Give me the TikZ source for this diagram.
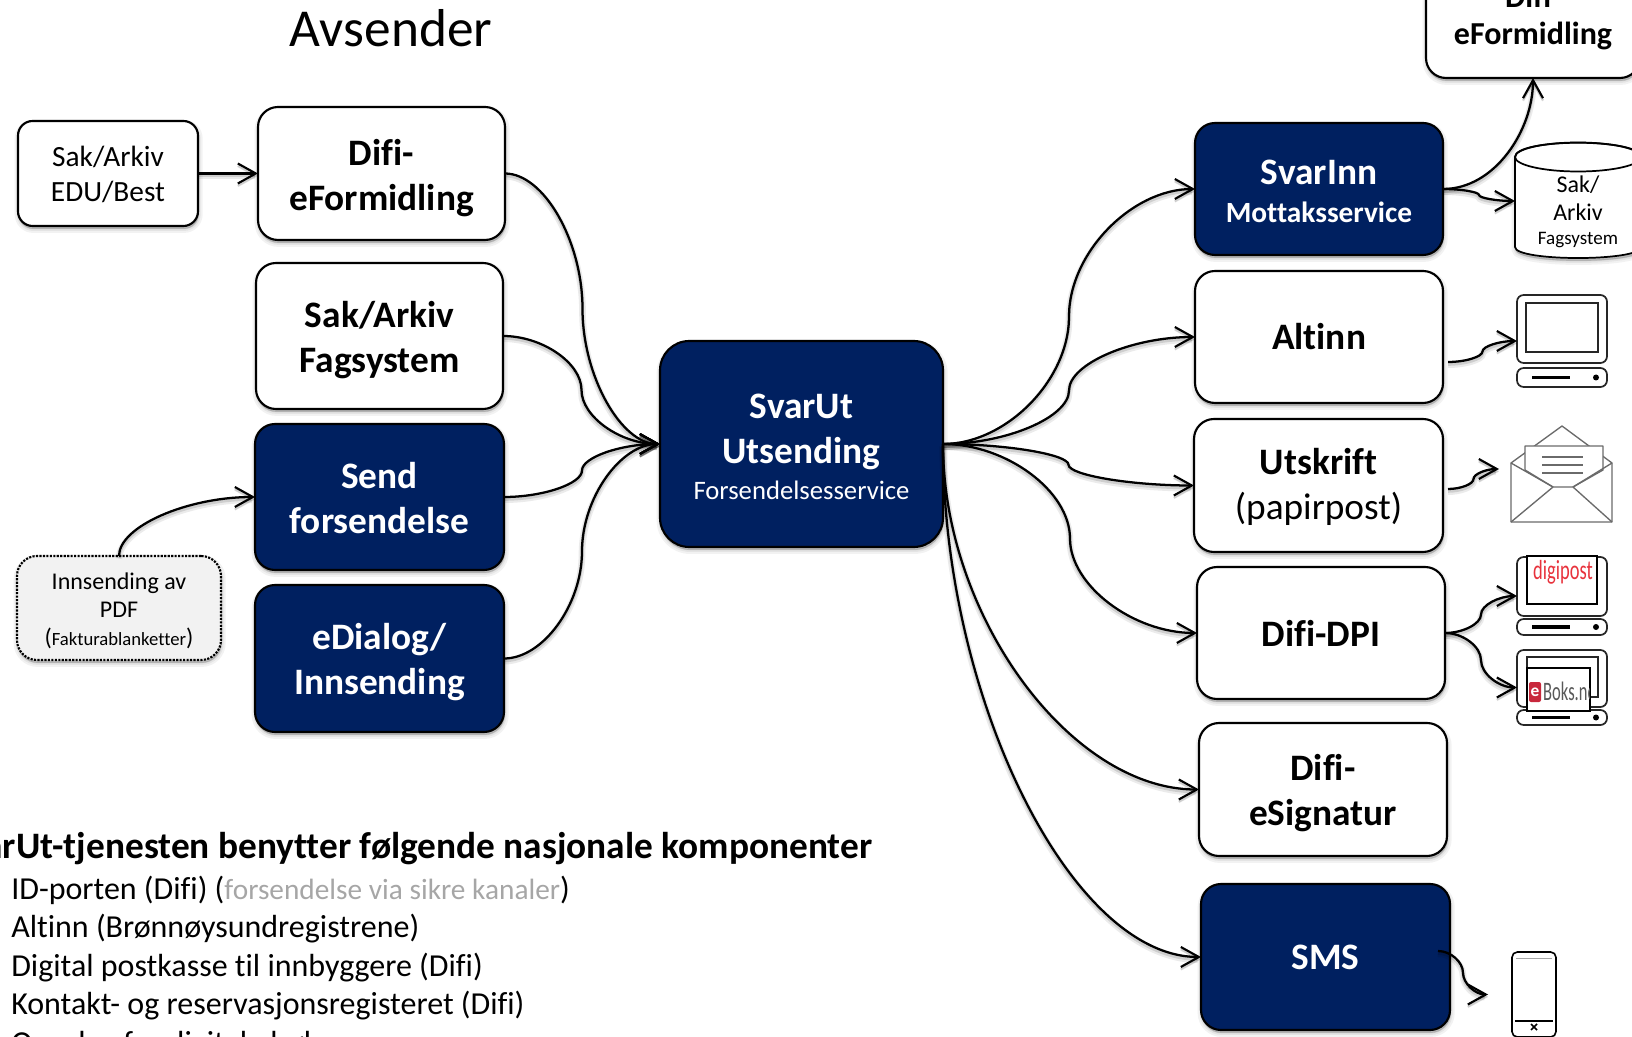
\documentclass[tikz,border=0pt]{standalone}
\usepackage{fontspec}
\setmainfont{Carlito}[Ligatures=CommonOff]
\usetikzlibrary{arrows.meta,calc,shadows}
\definecolor{navy}{HTML}{002060}
\definecolor{greytxt}{HTML}{A6A6A6}
\definecolor{envgrey}{HTML}{6A6A6A}
\definecolor{digired}{HTML}{E8323C}
\definecolor{boksred}{HTML}{C8283C}
\newcommand{\bigb}{\bfseries\fontsize{28}{33.75}\selectfont}
\newcommand{\fsz}[2]{\fontsize{#1}{#2}\selectfont}
\newcommand{\tp}[1]{\rule{0pt}{#1pt}}
% curved connector: out horizontally, vertical at fraction #1, in horizontally
\newcommand{\cconn}[3][.5]{\draw[conn] let \p1=(#2),\p2=(#3),\n1={\x1+#1*(\x2-\x1)},\n2={(\y1+\y2)/2} in
  (\p1) .. controls ({(\x1+\n1)/2},\y1) and (\n1,{(\y1+\n2)/2}) .. (\n1,\n2)
  .. controls (\n1,{(\n2+\y2)/2}) and ({(\n1+\x2)/2},\y2) .. (\p2);}
% quarter connector: leaves vertically, arrives horizontally
\newcommand{\qconn}[2]{\draw[conn] let \p1=(#1),\p2=(#2) in
  (\p1) .. controls (\x1,{(\y1+\y2)/2}) and ({(\x1+\x2)/2},\y2) .. (\p2);}
% computer icon: name, top, monitor bottom, base top, base bottom
\newcommand{\pcicon}[5]{
  \draw[icon,fill=white] (1517,#2) [rounded corners=5pt] rectangle (1607,#3);
  \draw[icon,fill=white] (1517,#4) [rounded corners=5pt] rectangle (1607,#5);
  \draw[line width=2.3pt,line cap=butt] (1532,{(#4+#5)/2}) -- (1570,{(#4+#5)/2});
  \fill (1596,{(#4+#5)/2}) circle [radius=3];
  \node[iconbox,sz={90}{#5-#2}] (#1) at (1562,{(#2+#5)/2}) {};
}
\tikzset{
  sz/.style 2 args={minimum width=(#1)*.75pt,minimum height=(#2)*.75pt},
  softshadow/.style={
    general shadow={solid,shadow xshift=.5pt,shadow yshift=-2.2pt,fill=black,fill opacity=.05,draw=black,draw opacity=.05,line width=6pt},
    general shadow={solid,shadow xshift=.5pt,shadow yshift=-2.2pt,fill=black,fill opacity=.06,draw=black,draw opacity=.06,line width=3pt},
    general shadow={solid,shadow xshift=.5pt,shadow yshift=-2pt,fill=black,fill opacity=.08,draw=black,draw opacity=.08,line width=1pt}},
  boxbase/.style={rectangle,rounded corners=15pt,draw=black,line width=1.6pt,inner sep=0pt,outer sep=0pt,align=center,softshadow},
  wbox/.style={boxbase,fill=white,text=black},
  dbox/.style={boxbase,fill=navy,text=white},
  conn/.style={draw=black,line width=1.7pt,
    -{Straight Barb[length=13.5pt,width=15pt,line width=1.6pt]},
    preaction={draw=black,draw opacity=.08,line width=5pt,transform canvas={yshift=-2pt}},
    preaction={draw=black,draw opacity=.12,line width=2.5pt,transform canvas={yshift=-1.6pt}}},
  icon/.style={draw=black!85,line width=1.3pt},
  iconbox/.style={rectangle,inner sep=0pt,outer sep=0pt},
  envl/.style={draw=envgrey,line width=1pt,line join=round},
  listtxt/.style={anchor=base west,inner sep=0pt,font=\fsz{24}{29}}
}
\begin{document}
\begin{tikzpicture}[x=.75pt,y=-.75pt]
\useasboundingbox (0,0) rectangle (1632,1037);
\clip (0,0) rectangle (1632,1037);

\node[font=\fsz{40}{48},inner sep=0pt] (title) at (391,28) {Avsender};

% left boxes
\node[wbox,sz={180}{105},rounded corners=11pt,font=\fsz{22}{26.25}] (edu) at (108,173.5) {\tp{17}Sak/Arkiv\\EDU/Best};
\node[wbox,sz={247}{133},font=\bigb] (dife) at (381.5,173.5) {\tp{26.6}Difi-\\eFormidling};
\node[wbox,sz={247}{146},font=\bigb] (fag) at (379.5,336) {\tp{25}Sak/Arkiv\\Fagsystem};
\node[dbox,sz={249}{146},font=\bigb] (send) at (379.5,497) {\tp{21.2}Send\\forsendelse};
\node[dbox,sz={249}{147},font=\bigb] (edia) at (379.5,658.5) {\tp{25.5}eDialog/\\Innsending};
\node[wbox,sz={204}{104},fill=black!5,densely dotted,font=\fsz{18}{21}] (inns) at (119,608)
  {\tp{16.9}Innsending av\\PDF\\({\fsz{14}{21}Fakturablanketter})};

% centre
\node[dbox,sz={283}{206},rounded corners=22pt,font=\bigb] (svarut) at (801.5,444)
  {\tp{22.7}SvarUt\\Utsending\\[-6.75pt]{\normalfont\fsz{20}{24}Forsendelsesservice}};

% right boxes
\node[dbox,sz={248}{132},font=\bigb] (svarinn) at (1319,189) {\tp{22}SvarInn\\[-5pt]{\fsz{22}{26}Mottaksservice}};
\node[wbox,sz={248}{132},font=\bigb] (altinn) at (1319,337) {Altinn};
\node[wbox,sz={249}{133},font=\bigb] (utskrift) at (1318.5,485.5) {\tp{22.4}Utskrift\\{\normalfont (papirpost)}};
\node[wbox,sz={248}{132},font=\bigb] (dpi) at (1321,633) {Difi-DPI};
\node[wbox,sz={248}{133},font=\bigb] (esig) at (1323,789.5) {\tp{24.3}Difi-\\eSignatur};
\node[dbox,sz={249}{146},font=\bigb] (sms) at (1325.5,957) {SMS};
\node[wbox,sz={214}{138},font=\bfseries\fsz{24}{27.75}] (top) at (1533,9) {\tp{29}Difi-\\eFormidling};

% cylinder
\path[draw=black,line width=1.3pt,fill=white,softshadow]
  (1515,157) -- (1515,247) .. controls (1515,261.7) and (1641,261.7) .. (1641,247) -- (1641,157)
  .. controls (1641,138) and (1515,138) .. (1515,157) -- cycle;
\draw[black,line width=1.3pt] (1578,157) ellipse [x radius=63,y radius=14.5];
\node[iconbox,sz={126}{86},align=center,font=\fsz{18}{21}] (cyl) at (1578,201)
  {\tp{29}Sak/\\Arkiv\\[-3pt]{\fsz{14.3}{17}Fagsystem}};

% computers
\pcicon{pcalt}{295}{363}{368}{387}
\draw[icon] (1526,303) rectangle (1598,352);
\pcicon{pcdigi}{557}{616}{619}{635}
\draw[black,line width=1.7pt,fill=white] (1527,556) rectangle (1597,604);
\node[inner sep=0pt,text=digired,xscale=.77,yscale=1.15,font=\fsz{18}{20}] (digi) at (1563,572) {digipost};
\pcicon{pcbox}{650}{707}{710}{725}
\draw[icon] (1527,657) rectangle (1598,697);
\draw[black,line width=1.2pt,fill=white] (1527,668) rectangle (1590,711);
\begin{scope}
  \clip (1527,668) rectangle (1589,711);
  \fill[boksred,rounded corners=1.5pt] (1529,682) rectangle (1541,702);
  \node[inner sep=0pt,text=white,font=\bfseries\fsz{13}{15}] (boxe) at (1535,692) {e};
  \node[anchor=west,inner sep=0pt,text=black!65,xscale=.62,font=\fsz{20}{24}] (boks) at (1543,691.5) {Boks.no};
\end{scope}

% envelope
\node[iconbox,sz={114}{96}] (mail) at (1556,469) {};
\draw[envl,fill=white] (1511,463) -- (1562,426) -- (1612,463) -- (1612,522) -- (1511,522) -- cycle;
\draw[envl,fill=white] (1525,446) -- (1603,446) -- (1603,470) -- (1573,487) -- (1553,487) -- (1525,470) -- cycle;
\draw[envl] (1511,463) -- (1553,487) (1612,463) -- (1573,487) (1511,522) -- (1553,487) (1612,522) -- (1573,487);
\draw[envl] (1542,457) -- (1583,457) (1542,465) -- (1583,465) (1542,473) -- (1583,473);

% phone
\node[iconbox,sz={92}{85}] (phone) at (1534,994.5) {};
\draw[black,line width=1.2pt,fill=white,rounded corners=4pt] (1512,952) rectangle (1556,1037);
\draw[black,line width=1.6pt] (1518,952) -- (1550,952);
\draw[black!35,line width=.6pt] (1516,958) -- (1552,958);
\draw[black,line width=1.1pt] (1515,1021) -- (1553,1021);
\draw[black,line width=1.1pt] (1531,1024) -- (1537,1030) (1537,1024) -- (1531,1030);

% connectors left
\draw[conn] (edu.east) -- (dife.west);
\cconn{dife.east}{svarut.west}
\cconn{fag.east}{svarut.west}
\cconn{send.east}{svarut.west}
\cconn{edia.east}{svarut.west}
\qconn{inns.north}{send.west}

% connectors right
\cconn{svarut.east}{svarinn.west}
\cconn{svarut.east}{altinn.west}
\cconn{svarut.east}{utskrift.west}
\cconn{svarut.east}{dpi.west}
\qconn{svarut.east}{esig.west}
\qconn{svarut.east}{sms.west}

% small connectors
\draw[conn] (svarinn.east) .. controls (1495,189) and (1533,130) .. (top.south);
\cconn{svarinn.east}{cyl.west}
\coordinate (altout) at (1448,362);
\cconn{altout}{pcalt.west}
\coordinate (utout) at (1448,489);
\cconn{utout}{mail.west}
\cconn{dpi.east}{pcdigi.west}
\cconn{dpi.east}{pcbox.west}
\coordinate (smsout) at (1438,951);
\cconn{smsout}{phone.west}

% bottom text
\node[anchor=base east,inner sep=0pt,font=\bfseries\fsz{28}{32}] (head) at (872.5,858.5)
  {SvarUt-tjenesten benytter følgende nasjonale komponenter};
\node[listtxt] (l1) at (11,899) {ID-porten (Difi) ({\color{greytxt}\fsz{22}{29}forsendelse via sikre kanaler})};
\node[listtxt] (l2) at (11,937) {Altinn (Brønnøysundregistrene)};
\node[listtxt] (l3) at (11,976) {Digital postkasse til innbyggere (Difi)};
\node[listtxt] (l4) at (11,1014) {Kontakt- og reservasjonsregisteret (Difi)};
\node[listtxt] (l5) at (11,1053) {Oppslag for digitale bøker};
\end{tikzpicture}
\end{document}
